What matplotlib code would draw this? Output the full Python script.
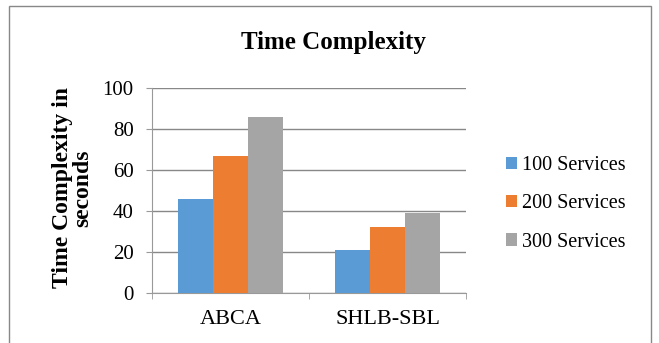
import matplotlib
matplotlib.use("Agg")
import matplotlib.pyplot as plt
import numpy as np
from matplotlib.patches import Rectangle

categories = ["ABCA", "SHLB-SBL"]
series_names = ["100 Services", "200 Services", "300 Services"]
values_100 = [46, 21]
values_200 = [67, 32]
values_300 = [86, 39]
colors = ["#5B9BD5", "#ED7D31", "#A5A5A5"]

plt.rcParams['font.family'] = ['Liberation Serif', 'DejaVu Serif']

fig = plt.figure(figsize=(6.59, 3.43), dpi=100)
fig.patches.append(Rectangle((9/659, -0.01), (651-9)/659, 1.01 - 6/343, transform=fig.transFigure,
                             fill=False, edgecolor="#888888", linewidth=1.0))
ax = fig.add_axes([152/659, 1-293/343, (466-152)/659, (293-88)/343])

x = np.arange(len(categories))
w = 0.221
for i, (vals, name, c) in enumerate(zip([values_100, values_200, values_300], series_names, colors)):
    ax.bar(x + (i - 1) * w, vals, width=w, color=c, label=name, zorder=3)

ax.set_xlim(-0.5, 1.5)
ax.set_ylim(0, 100)
ax.set_yticks([0, 20, 40, 60, 80, 100])
ax.yaxis.grid(True, color="#888888", linewidth=1.0, zorder=0)
for s in ["top", "right"]:
    ax.spines[s].set_visible(False)
ax.spines["left"].set_color("#999999")
ax.spines["bottom"].set_color("#999999")
ax.tick_params(axis="y", length=4.3, color="#999999", labelsize=15, pad=9)
ax.set_xticks(x)
ax.set_xticklabels(categories, fontsize=16)
ax.tick_params(axis="x", length=0, pad=12)
ax.set_xticks([-0.5, 0.5, 1.5], minor=True)
ax.tick_params(axis="x", which="minor", length=4.3, color="#999999", direction="out")

fig.text(333.5/659, 1-43/343, "Time Complexity", ha="center", va="center", fontsize=18, fontweight="bold")
fig.text(73/659, 1-188/343, "Time Complexity in\nseconds", ha="center", va="center", rotation=90,
         fontsize=17, fontweight="bold", linespacing=0.95)

leg = ax.legend(loc="center left", bbox_to_anchor=(506/659, 1-204/343), bbox_transform=fig.transFigure,
                frameon=False, fontsize=14.5, handlelength=0.55, handleheight=0.55, handletextpad=0.25,
                labelspacing=0.95, borderpad=0, borderaxespad=0)

fig.savefig("out.png", dpi=100)
